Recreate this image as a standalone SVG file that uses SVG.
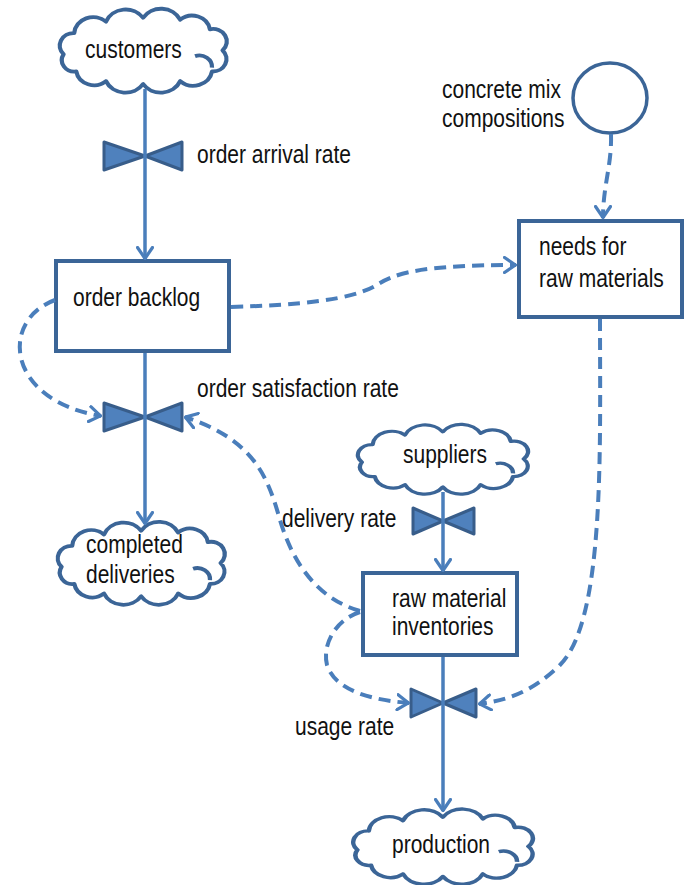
<svg xmlns="http://www.w3.org/2000/svg" xmlns:xlink="http://www.w3.org/1999/xlink" width="691" height="885" viewBox="0 0 691 885">
<style>
.cloud{fill:#fff;stroke:#3B6597;stroke-width:4;vector-effect:non-scaling-stroke;stroke-linejoin:round;}
.box{fill:#fff;stroke:#3B6597;stroke-width:4;}
.valve{fill:#4F81BD;stroke:#385D8A;stroke-width:3;stroke-linejoin:round;}
.flow{fill:none;stroke:#4A7EBB;stroke-width:3.5;marker-end:url(#arr);}
.info{fill:none;stroke:#4A7EBB;stroke-width:4;stroke-dasharray:12 7;marker-end:url(#arr);}
text{font-family:"Liberation Sans",Arial,sans-serif;font-size:21px;fill:#111;}
</style>
<defs>
<marker id="arr" viewBox="0 0 14 18" refX="13" refY="9" markerWidth="14" markerHeight="18" markerUnits="userSpaceOnUse" orient="auto">
<path d="M1.5,1.5 L12.5,9 L1.5,16.5" fill="none" stroke="#4A7EBB" stroke-width="3.2" stroke-dasharray="none" stroke-linecap="round" stroke-linejoin="round"/>
</marker>
<path id="cloudShape" d="M10,44 A13,13 0 0 1 20,22 A18,18 0 0 1 50,10 A20,20 0 0 1 85,6 A20,20 0 0 1 120,8 A17,17 0 0 1 148,18 A13,13 0 0 1 160,40 A13,13 0 0 1 150,62 A18,18 0 0 1 120,72 A20,20 0 0 1 85,75 A20,20 0 0 1 50,72 A17,17 0 0 1 22,62 A12,12 0 0 1 10,44 Z M134,46 A12,12 0 0 1 150,58"/>
</defs>

<g id="customers">
<use xlink:href="#cloudShape" class="cloud" transform="translate(53,12) scale(1.06,0.96)"/>
<text transform="translate(85,58) scale(1,1.2)">customers</text>
</g>
<g id="order-arrival-rate">
<path class="valve" d="M104,142 L145,156 L104,170 Z M182,142 L145,156 L182,170 Z"/>
<text transform="translate(197,163) scale(1,1.2)">order arrival rate</text>
</g>
<g id="order-backlog">
<rect class="box" x="56" y="261" width="173" height="90"/>
<text transform="translate(73,306) scale(1,1.2)">order backlog</text>
</g>
<g id="order-satisfaction-rate">
<path class="valve" d="M104,403 L145,417 L104,431 Z M182,403 L145,417 L182,431 Z"/>
<text transform="translate(197,397) scale(1,1.2)">order satisfaction rate</text>
</g>
<g id="completed-deliveries">
<use xlink:href="#cloudShape" class="cloud" transform="translate(51,525) scale(1.06,0.95)"/>
<text transform="translate(86,553) scale(1,1.2)">completed</text>
<text transform="translate(86,583) scale(1,1.2)">deliveries</text>
</g>
<g id="concrete-mix-compositions">
<ellipse cx="610" cy="98" rx="37" ry="35" fill="#fff" stroke="#3B6597" stroke-width="3.5"/>
<text transform="translate(442,98) scale(1,1.2)">concrete mix</text>
<text transform="translate(442,127) scale(1,1.2)">compositions</text>
</g>
<g id="needs-for-raw-materials">
<rect class="box" x="519" y="221" width="163" height="96"/>
<text transform="translate(539,255) scale(1,1.2)">needs for</text>
<text transform="translate(539,287) scale(1,1.2)">raw materials</text>
</g>
<g id="suppliers">
<use xlink:href="#cloudShape" class="cloud" transform="translate(351,427) scale(1.08,0.8)"/>
<text transform="translate(403,463) scale(1,1.2)">suppliers</text>
</g>
<g id="delivery-rate">
<path class="valve" d="M413,508 L443,521 L413,534 Z M474,508 L443,521 L474,534 Z"/>
<text transform="translate(282,527) scale(1,1.2)">delivery rate</text>
</g>
<g id="raw-material-inventories">
<rect class="box" x="363" y="573" width="154" height="82"/>
<text transform="translate(392,607) scale(1,1.2)">raw material</text>
<text transform="translate(392,635) scale(1,1.2)">inventories</text>
</g>
<g id="usage-rate">
<path class="valve" d="M411,689 L443,703 L411,717 Z M476,689 L443,703 L476,717 Z"/>
<text transform="translate(295,735) scale(1,1.2)">usage rate</text>
</g>
<g id="production">
<use xlink:href="#cloudShape" class="cloud" transform="translate(346,812) scale(1.14,0.86)"/>
<text transform="translate(392,853) scale(1,1.2)">production</text>
</g>

<g id="connectors">
<path class="flow" d="M145,89 L145,259"/>
<path class="flow" d="M145,353 L145,524"/>
<path class="flow" d="M443,492 L443,571"/>
<path class="flow" d="M443,657 L443,811"/>
<path class="info" d="M55,300 C0,320 5,400 101,416"/>
<path class="info" d="M231,307 C300,305 350,300 375,286 C395,273 420,265 516,265"/>
<path class="info" d="M611,134 C612,165 603,185 603,218"/>
<path class="info" d="M600,319 C600,450 605,620 560,665 C532,692 508,700 479,704"/>
<path class="info" d="M360,611 C315,598 292,560 280,520 C268,478 255,440 185,417"/>
<path class="info" d="M360,612 C335,620 322,645 327,665 C335,690 370,700 409,703"/>
</g>
</svg>
